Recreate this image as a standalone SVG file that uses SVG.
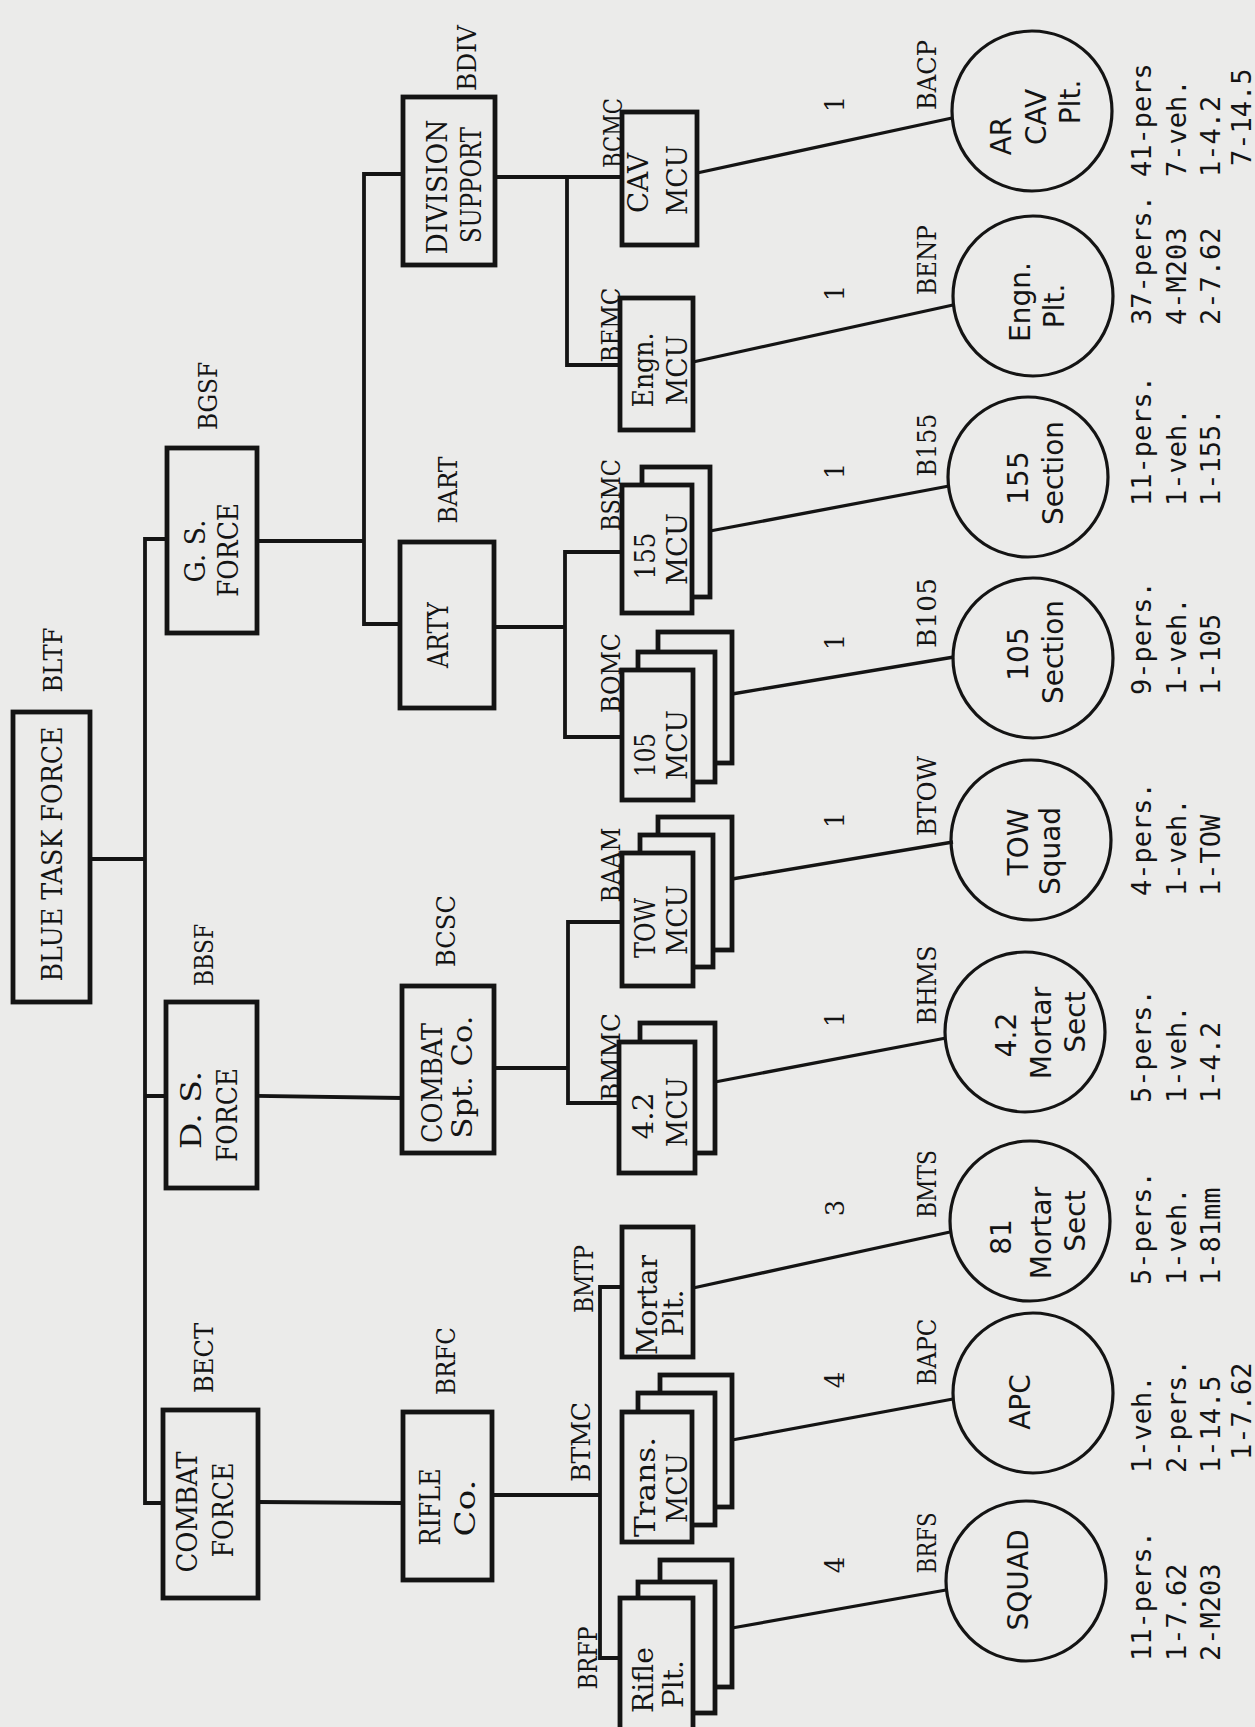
<svg xmlns="http://www.w3.org/2000/svg" width="1255" height="1727" viewBox="0 0 1255 1727">
<style>
.bg{fill:#ebebea}
.b{fill:#ebebea;stroke:#141414;stroke-width:4.8}
.c{fill:none;stroke:#141414;stroke-width:3.2}
.ln{stroke:#141414;stroke-width:3.8;fill:none;stroke-linecap:square}
.sl{stroke:#141414;stroke-width:3.3;fill:none}
text{fill:#141414}
.bx{font-family:"DejaVu Serif","Liberation Serif",serif;font-size:28px;text-anchor:middle}
.lb{font-family:"DejaVu Serif","Liberation Serif",serif;font-size:26px;text-anchor:middle}
.ct{font-family:"DejaVu Sans","Liberation Sans",sans-serif;font-size:28px;text-anchor:middle}
.st{font-family:"DejaVu Sans Mono","Liberation Mono",monospace;font-size:27px;text-anchor:start}
</style>
<rect class="bg" x="0" y="0" width="1255" height="1727"/>

<g id="connectors">
<path class="ln" d="M90 859H145M145 539V1503M145 539H167M145 1096H166M145 1503H163"/>
<path class="ln" d="M257 541H364M364 174V624M364 174H403M364 624H400"/>
<path class="ln" d="M495 177H622M567 177V365H620"/>
<path class="ln" d="M494 627H565M565 552V737M565 552H622M565 737H622"/>
<path class="ln" d="M257 1096L402 1098M494 1068H568M568 922V1103M568 922H622M568 1103H619"/>
<path class="ln" d="M258 1502L403 1503M492 1495H600M600 1287V1658M600 1287H622M600 1658H620"/>
<path class="sl" d="M697 173L952 118M693 362L953 305M710 531L949 486M732 694L954 657M732 879L953 842M715 1082L946 1038M693 1288L950 1232M732 1440L953 1399M732 1628L946 1590"/>
</g>

<g id="n-bltf">
<rect class="b" x="13" y="712" width="77" height="290"/>
<text class="bx" transform="translate(62,854) rotate(-90)" textLength="255" lengthAdjust="spacingAndGlyphs">BLUE TASK FORCE</text>
<text class="lb" transform="translate(62,660) rotate(-90)" textLength="65" lengthAdjust="spacingAndGlyphs">BLTF</text>
</g>

<g id="n-bgsf">
<rect class="b" x="167" y="448" width="90" height="185"/>
<text class="bx" transform="translate(205,551) rotate(-90)" textLength="63" lengthAdjust="spacingAndGlyphs">G. S.</text>
<text class="bx" transform="translate(238,550) rotate(-90)" textLength="94" lengthAdjust="spacingAndGlyphs">FORCE</text>
<text class="lb" transform="translate(217,396) rotate(-90)" textLength="68" lengthAdjust="spacingAndGlyphs">BGSF</text>
</g>

<g id="n-bbsf">
<rect class="b" x="166" y="1002" width="91" height="186"/>
<text class="bx" transform="translate(201,1110) rotate(-90)" textLength="78" lengthAdjust="spacingAndGlyphs">D. S.</text>
<text class="bx" transform="translate(237,1115) rotate(-90)" textLength="94" lengthAdjust="spacingAndGlyphs">FORCE</text>
<text class="lb" transform="translate(213,955) rotate(-90)" textLength="62" lengthAdjust="spacingAndGlyphs">BBSF</text>
</g>

<g id="n-bect">
<rect class="b" x="163" y="1410" width="95" height="188"/>
<text class="bx" transform="translate(197,1512) rotate(-90)" textLength="121" lengthAdjust="spacingAndGlyphs">COMBAT</text>
<text class="bx" transform="translate(233,1510) rotate(-90)" textLength="95" lengthAdjust="spacingAndGlyphs">FORCE</text>
<text class="lb" transform="translate(213,1358) rotate(-90)" textLength="70" lengthAdjust="spacingAndGlyphs">BECT</text>
</g>

<g id="n-bdiv">
<rect class="b" x="403" y="97" width="92" height="168"/>
<text class="bx" transform="translate(447,187) rotate(-90)" textLength="135" lengthAdjust="spacingAndGlyphs">DIVISION</text>
<text class="bx" transform="translate(481,185) rotate(-90)" textLength="116" lengthAdjust="spacingAndGlyphs">SUPPORT</text>
<text class="lb" transform="translate(476,58) rotate(-90)" textLength="66" lengthAdjust="spacingAndGlyphs">BDIV</text>
</g>

<g id="n-bart">
<rect class="b" x="400" y="542" width="94" height="166"/>
<text class="bx" transform="translate(448,635) rotate(-90)" textLength="66" lengthAdjust="spacingAndGlyphs">ARTY</text>
<text class="lb" transform="translate(457,490) rotate(-90)" textLength="67" lengthAdjust="spacingAndGlyphs">BART</text>
</g>

<g id="n-bcsc">
<rect class="b" x="402" y="986" width="92" height="167"/>
<text class="bx" transform="translate(442,1083) rotate(-90)" textLength="120" lengthAdjust="spacingAndGlyphs">COMBAT</text>
<text class="bx" transform="translate(472,1077) rotate(-90)" textLength="123" lengthAdjust="spacingAndGlyphs">Spt. Co.</text>
<text class="lb" transform="translate(455,931) rotate(-90)" textLength="72" lengthAdjust="spacingAndGlyphs">BCSC</text>
</g>

<g id="n-brfc">
<rect class="b" x="403" y="1412" width="89" height="168"/>
<text class="bx" transform="translate(440,1507) rotate(-90)" textLength="77" lengthAdjust="spacingAndGlyphs">RIFLE</text>
<text class="bx" transform="translate(475,1508) rotate(-90)" textLength="57" lengthAdjust="spacingAndGlyphs">Co.</text>
<text class="lb" transform="translate(455,1361) rotate(-90)" textLength="68" lengthAdjust="spacingAndGlyphs">BRFC</text>
</g>

<g id="n-bcmc">
<rect class="b" x="622" y="112" width="75" height="133"/>
<text class="bx" transform="translate(648,183) rotate(-90)" textLength="60" lengthAdjust="spacingAndGlyphs">CAV</text>
<text class="bx" transform="translate(687,180) rotate(-90)" textLength="70" lengthAdjust="spacingAndGlyphs">MCU</text>
<text class="lb" transform="translate(622,133) rotate(-90)" textLength="70" lengthAdjust="spacingAndGlyphs">BCMC</text>
</g>

<g id="n-bemc">
<rect class="b" x="620" y="298" width="73" height="132"/>
<text class="bx" transform="translate(653,370) rotate(-90)" textLength="75" lengthAdjust="spacingAndGlyphs">Engn.</text>
<text class="bx" transform="translate(687,370) rotate(-90)" textLength="70" lengthAdjust="spacingAndGlyphs">MCU</text>
<text class="lb" transform="translate(620,325) rotate(-90)" textLength="75" lengthAdjust="spacingAndGlyphs">BEMC</text>
</g>

<g id="n-bsmc">
<rect class="b" x="642" y="467" width="68" height="130"/>
<rect class="b" x="622" y="485" width="70" height="128"/>
<text class="bx" transform="translate(655,556) rotate(-90)" textLength="47" lengthAdjust="spacingAndGlyphs">155</text>
<text class="bx" transform="translate(687,549) rotate(-90)" textLength="72" lengthAdjust="spacingAndGlyphs">MCU</text>
<text class="lb" transform="translate(620,495) rotate(-90)" textLength="72" lengthAdjust="spacingAndGlyphs">BSMC</text>
</g>

<g id="n-bomc">
<rect class="b" x="658" y="632" width="74" height="131"/>
<rect class="b" x="638" y="652" width="77" height="130"/>
<rect class="b" x="622" y="670" width="71" height="130"/>
<text class="bx" transform="translate(655,755) rotate(-90)" textLength="44" lengthAdjust="spacingAndGlyphs">105</text>
<text class="bx" transform="translate(687,745) rotate(-90)" textLength="70" lengthAdjust="spacingAndGlyphs">MCU</text>
<text class="lb" transform="translate(620,673) rotate(-90)" textLength="80" lengthAdjust="spacingAndGlyphs">BOMC</text>
</g>

<g id="n-baam">
<rect class="b" x="658" y="817" width="74" height="133"/>
<rect class="b" x="640" y="835" width="73" height="132"/>
<rect class="b" x="622" y="853" width="71" height="133"/>
<text class="bx" transform="translate(655,928) rotate(-90)" textLength="60" lengthAdjust="spacingAndGlyphs">TOW</text>
<text class="bx" transform="translate(687,920) rotate(-90)" textLength="70" lengthAdjust="spacingAndGlyphs">MCU</text>
<text class="lb" transform="translate(620,865) rotate(-90)" textLength="75" lengthAdjust="spacingAndGlyphs">BAAM</text>
</g>

<g id="n-bmmc">
<rect class="b" x="640" y="1023" width="75" height="130"/>
<rect class="b" x="619" y="1042" width="76" height="131"/>
<text class="bx" transform="translate(653,1116) rotate(-90)" textLength="47" lengthAdjust="spacingAndGlyphs">4.2</text>
<text class="bx" transform="translate(687,1112) rotate(-90)" textLength="70" lengthAdjust="spacingAndGlyphs">MCU</text>
<text class="lb" transform="translate(620,1057) rotate(-90)" textLength="88" lengthAdjust="spacingAndGlyphs">BMMC</text>
</g>

<g id="n-bmtp">
<rect class="b" x="622" y="1227" width="71" height="130"/>
<text class="bx" transform="translate(657,1305) rotate(-90)" textLength="100" lengthAdjust="spacingAndGlyphs">Mortar</text>
<text class="bx" transform="translate(683,1313) rotate(-90)" textLength="47" lengthAdjust="spacingAndGlyphs">Plt.</text>
<text class="lb" transform="translate(593,1279) rotate(-90)" textLength="68" lengthAdjust="spacingAndGlyphs">BMTP</text>
</g>

<g id="n-btmc">
<rect class="b" x="660" y="1375" width="72" height="132"/>
<rect class="b" x="638" y="1393" width="77" height="132"/>
<rect class="b" x="622" y="1412" width="70" height="130"/>
<text class="bx" transform="translate(655,1487) rotate(-90)" textLength="100" lengthAdjust="spacingAndGlyphs">Trans.</text>
<text class="bx" transform="translate(687,1488) rotate(-90)" textLength="70" lengthAdjust="spacingAndGlyphs">MCU</text>
<text class="lb" transform="translate(590,1442) rotate(-90)" textLength="80" lengthAdjust="spacingAndGlyphs">BTMC</text>
</g>

<g id="n-brfp">
<rect class="b" x="660" y="1560" width="72" height="127"/>
<rect class="b" x="638" y="1582" width="77" height="131"/>
<rect class="b" x="620" y="1598" width="73" height="162"/>
<text class="bx" transform="translate(653,1680) rotate(-90)" textLength="66" lengthAdjust="spacingAndGlyphs">Rifle</text>
<text class="bx" transform="translate(683,1684) rotate(-90)" textLength="48" lengthAdjust="spacingAndGlyphs">Plt.</text>
<text class="lb" transform="translate(597,1658) rotate(-90)" textLength="63" lengthAdjust="spacingAndGlyphs">BRFP</text>
</g>

<g id="multipliers">
<text class="lb" transform="translate(844,104) rotate(-90)">1</text>
<text class="lb" transform="translate(844,293) rotate(-90)">1</text>
<text class="lb" transform="translate(844,471) rotate(-90)">1</text>
<text class="lb" transform="translate(844,642) rotate(-90)">1</text>
<text class="lb" transform="translate(844,820) rotate(-90)">1</text>
<text class="lb" transform="translate(844,1019) rotate(-90)">1</text>
<text class="lb" transform="translate(844,1208) rotate(-90)">3</text>
<text class="lb" transform="translate(844,1380) rotate(-90)">4</text>
<text class="lb" transform="translate(844,1565) rotate(-90)">4</text>
</g>

<g id="n-bacp">
<circle class="c" cx="1032" cy="111" r="80"/>
<text class="ct" transform="translate(1011,136) rotate(-90)">AR</text>
<text class="ct" transform="translate(1046,117) rotate(-90)">CAV</text>
<text class="ct" transform="translate(1080,102) rotate(-90)">Plt.</text>
<text class="lb" transform="translate(936,75) rotate(-90)" textLength="70" lengthAdjust="spacingAndGlyphs">BACP</text>
<text class="st" transform="translate(1151,177) rotate(-90)">41-pers</text>
<text class="st" transform="translate(1185.5,177) rotate(-90)">7-veh.</text>
<text class="st" transform="translate(1220,177) rotate(-90)">1-4.2</text>
<text class="st" transform="translate(1251,166) rotate(-90)">7-14.5</text>
</g>

<g id="n-benp">
<circle class="c" cx="1033" cy="296" r="80"/>
<text class="ct" transform="translate(1030,302) rotate(-90)">Engn.</text>
<text class="ct" transform="translate(1064,306) rotate(-90)">Plt.</text>
<text class="lb" transform="translate(936,260) rotate(-90)" textLength="70" lengthAdjust="spacingAndGlyphs">BENP</text>
<text class="st" transform="translate(1151,325) rotate(-90)">37-pers.</text>
<text class="st" transform="translate(1185.5,325) rotate(-90)">4-M203</text>
<text class="st" transform="translate(1220,325) rotate(-90)">2-7.62</text>
</g>

<g id="n-b155">
<circle class="c" cx="1028" cy="477" r="80"/>
<text class="ct" transform="translate(1028,478) rotate(-90)">155</text>
<text class="ct" transform="translate(1063,473) rotate(-90)">Section</text>
<text class="lb" transform="translate(936,445) rotate(-90)" textLength="63" lengthAdjust="spacingAndGlyphs">B155</text>
<text class="st" transform="translate(1151,506) rotate(-90)">11-pers.</text>
<text class="st" transform="translate(1185.5,506) rotate(-90)">1-veh.</text>
<text class="st" transform="translate(1220,506) rotate(-90)">1-155.</text>
</g>

<g id="n-b105">
<circle class="c" cx="1033" cy="658" r="80"/>
<text class="ct" transform="translate(1028,654) rotate(-90)">105</text>
<text class="ct" transform="translate(1063,652) rotate(-90)">Section</text>
<text class="lb" transform="translate(936,613) rotate(-90)" textLength="70" lengthAdjust="spacingAndGlyphs">B105</text>
<text class="st" transform="translate(1151,695) rotate(-90)">9-pers.</text>
<text class="st" transform="translate(1185.5,695) rotate(-90)">1-veh.</text>
<text class="st" transform="translate(1220,695) rotate(-90)">1-105</text>
</g>

<g id="n-btow">
<circle class="c" cx="1031" cy="840" r="80"/>
<text class="ct" transform="translate(1028,842) rotate(-90)">TOW</text>
<text class="ct" transform="translate(1060,851) rotate(-90)">Squad</text>
<text class="lb" transform="translate(936,796) rotate(-90)" textLength="80" lengthAdjust="spacingAndGlyphs">BTOW</text>
<text class="st" transform="translate(1151,896) rotate(-90)">4-pers.</text>
<text class="st" transform="translate(1185.5,896) rotate(-90)">1-veh.</text>
<text class="st" transform="translate(1220,896) rotate(-90)">1-TOW</text>
</g>

<g id="n-bhms">
<circle class="c" cx="1025" cy="1032" r="80"/>
<text class="ct" transform="translate(1016,1035) rotate(-90)">4.2</text>
<text class="ct" transform="translate(1051,1033) rotate(-90)">Mortar</text>
<text class="ct" transform="translate(1085,1022) rotate(-90)">Sect</text>
<text class="lb" transform="translate(936,985) rotate(-90)" textLength="79" lengthAdjust="spacingAndGlyphs">BHMS</text>
<text class="st" transform="translate(1151,1103) rotate(-90)">5-pers.</text>
<text class="st" transform="translate(1185.5,1103) rotate(-90)">1-veh.</text>
<text class="st" transform="translate(1220,1103) rotate(-90)">1-4.2</text>
</g>

<g id="n-bmts">
<circle class="c" cx="1030" cy="1221" r="80"/>
<text class="ct" transform="translate(1011,1237) rotate(-90)">81</text>
<text class="ct" transform="translate(1051,1233) rotate(-90)">Mortar</text>
<text class="ct" transform="translate(1085,1221) rotate(-90)">Sect</text>
<text class="lb" transform="translate(936,1184) rotate(-90)" textLength="68" lengthAdjust="spacingAndGlyphs">BMTS</text>
<text class="st" transform="translate(1151,1285) rotate(-90)">5-pers.</text>
<text class="st" transform="translate(1185.5,1285) rotate(-90)">1-veh.</text>
<text class="st" transform="translate(1220,1285) rotate(-90)">1-81mm</text>
</g>

<g id="n-bapc">
<circle class="c" cx="1033" cy="1393" r="80"/>
<text class="ct" transform="translate(1030,1402) rotate(-90)">APC</text>
<text class="lb" transform="translate(936,1352) rotate(-90)" textLength="67" lengthAdjust="spacingAndGlyphs">BAPC</text>
<text class="st" transform="translate(1151,1473) rotate(-90)">1-veh.</text>
<text class="st" transform="translate(1185.5,1473) rotate(-90)">2-pers.</text>
<text class="st" transform="translate(1220,1473) rotate(-90)">1-14.5</text>
<text class="st" transform="translate(1251,1460) rotate(-90)">1-7.62</text>
</g>

<g id="n-brfs">
<circle class="c" cx="1026" cy="1581" r="80"/>
<text class="ct" transform="translate(1028,1580) rotate(-90)">SQUAD</text>
<text class="lb" transform="translate(936,1543) rotate(-90)" textLength="61" lengthAdjust="spacingAndGlyphs">BRFS</text>
<text class="st" transform="translate(1151,1661) rotate(-90)">11-pers.</text>
<text class="st" transform="translate(1185.5,1661) rotate(-90)">1-7.62</text>
<text class="st" transform="translate(1220,1661) rotate(-90)">2-M203</text>
</g>
</svg>
